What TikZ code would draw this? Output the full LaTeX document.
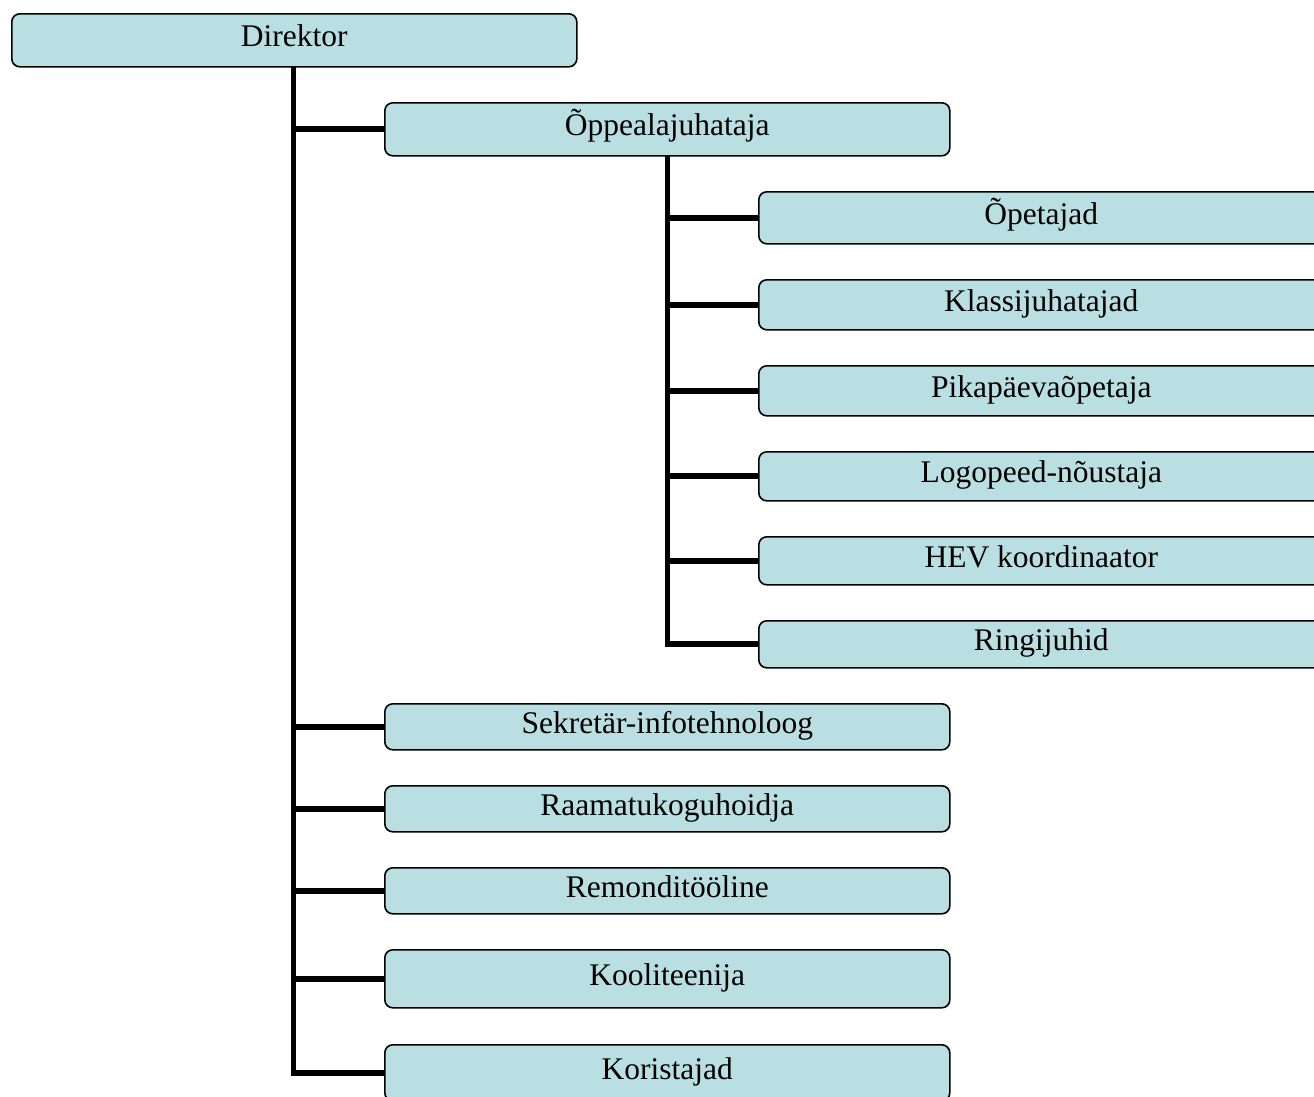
\documentclass[tikz,border=0pt]{standalone}
\usepackage{fontspec}
\setmainfont{Liberation Serif}
\definecolor{boxfill}{HTML}{B9DFE3}
\tikzset{
  orgbox/.style={draw=black, line width=1.6pt, fill=boxfill, rounded corners=8pt,
    anchor=north west, minimum width=565pt, inner sep=0pt,
    text height=21pt, text depth=8pt, font=\fontsize{31.5}{36}\selectfont},
  conn/.style={line width=5.8pt, black, line join=miter}
}
\begin{document}
\begin{tikzpicture}[x=1pt,y=-1pt]
\useasboundingbox (0,0) rectangle (1314,1096);
\clip (0,0) rectangle (1314,1096);
\coordinate (t1) at (293.5,66);
\coordinate (s1) at (667.5,155);
% nodes
\node[orgbox, minimum height=53pt] (dir) at (11,13) {Direktor};
\node[orgbox, minimum height=53pt] (opp) at (384,102) {Õppealajuhataja};
\node[orgbox, minimum height=52pt] (ope) at (758,191) {Õpetajad};
\node[orgbox, minimum height=50pt] (kla) at (758,279) {Klassijuhatajad};
\node[orgbox, minimum height=50pt] (pik) at (758,365) {Pikapäevaõpetaja};
\node[orgbox, minimum height=49pt] (log) at (758,451) {Logopeed-nõustaja};
\node[orgbox, minimum height=48pt] (hev) at (758,536) {HEV koordinaator};
\node[orgbox, minimum height=47pt] (rin) at (758,620) {Ringijuhid};
\node[orgbox, minimum height=46pt] (sek) at (384,703) {Sekretär-infotehnoloog};
\node[orgbox, minimum height=46pt] (raa) at (384,785) {Raamatukoguhoidja};
\node[orgbox, minimum height=46pt] (rem) at (384,867) {Remonditööline};
\node[orgbox, minimum height=58pt] (koo) at (384,949) {Kooliteenija};
\node[orgbox, minimum height=56pt] (kor) at (384,1044) {Koristajad};
% trunk
\draw[conn] (t1) -- (t1 |- kor.west) -- (kor.west);
\draw[conn] (opp.west) -- (opp.west -| t1);
\draw[conn] (sek.west) -- (sek.west -| t1);
\draw[conn] (raa.west) -- (raa.west -| t1);
\draw[conn] (rem.west) -- (rem.west -| t1);
\draw[conn] (koo.west) -- (koo.west -| t1);
% sub trunk
\draw[conn] (s1) -- (s1 |- rin.west) -- (rin.west);
\draw[conn] (ope.west) -- (ope.west -| s1);
\draw[conn] (kla.west) -- (kla.west -| s1);
\draw[conn] (pik.west) -- (pik.west -| s1);
\draw[conn] (log.west) -- (log.west -| s1);
\draw[conn] (hev.west) -- (hev.west -| s1);
\end{tikzpicture}
\end{document}
